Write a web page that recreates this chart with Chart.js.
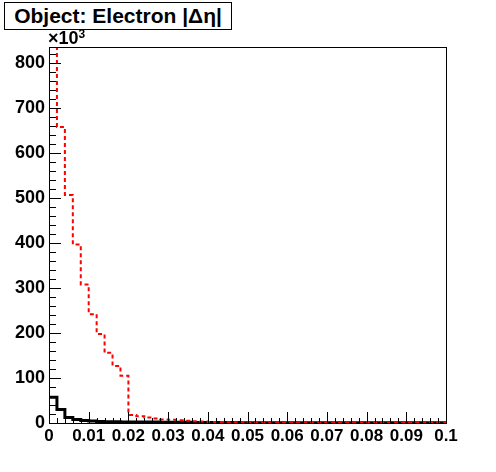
<!DOCTYPE html>
<html>
<head>
<meta charset="utf-8">
<script src="https://cdn.jsdelivr.net/npm/chart.js@4/dist/chart.umd.min.js"></script>
<style>
  html, body { margin: 0; padding: 0; background: #fff; }
  #wrap { position: relative; width: 496px; height: 472px; }
  #title {
    position: absolute; left: 4px; top: 2px; width: 226px; height: 26px;
    border: 1px solid #000; background: #fff;
    font: bold 21px "Liberation Sans", Arial, Helvetica, sans-serif;
    line-height: 26px; text-align: center; color: #000;
  }
  #mult {
    position: absolute; left: 48px; top: 29px;
    font: bold 18px "Liberation Sans", Arial, Helvetica, sans-serif; color: #000;
    line-height: 18px;
  }
  #mult sup { font-size: 12px; position: relative; top: -4px; vertical-align: top; }
</style>
</head>
<body>
<div id="wrap">
  <canvas id="c" width="496" height="472"></canvas>
  <div id="title">Object: Electron |Δη|</div>
  <div id="mult">×10<sup>3</sup></div>
</div>
<script>
// ---- data (values in units of 10^3) ----
const binEdgesStart = 0;
const binWidth = 0.002;
const redValues = [
  836, 658, 507, 397, 308, 242, 198, 156, 127, 105,
  18, 15, 12, 10, 8, 7, 6, 5, 4, 3.5,
  2.5, 2, 1.5, 1.5, 1,
  0.3, 0.3, 0.3, 0.3, 0.3, 0.3, 0.3, 0.3, 0.3, 0.3,
  0.3, 0.3, 0.3, 0.3, 0.3, 0.3, 0.3, 0.3, 0.3, 0.3,
  0.3, 0.3, 0.3, 0.3, 0.3
];
const blackValues = [
  57, 30, 12.5, 8, 5.5, 4.5, 3.5, 3, 3, 2.5,
  2.5, 2, 2, 2, 1.5, 1.5, 1.5, 1.5, 1.2, 1.2,
  1, 1, 1, 1, 0.8,
  0.5, 0.5, 0.5, 0.5, 0.5, 0.5, 0.5, 0.5, 0.5, 0.5,
  0.5, 0.5, 0.5, 0.5, 0.5, 0.5, 0.5, 0.5, 0.5, 0.5,
  0.5, 0.5, 0.5, 0.5, 0.5
];
const xTickValues = [0, 0.01, 0.02, 0.03, 0.04, 0.05, 0.06, 0.07, 0.08, 0.09, 0.1];
const xTickLabels = ["0", "0.01", "0.02", "0.03", "0.04", "0.05", "0.06", "0.07", "0.08", "0.09", "0.1"];
const yTickValues = [0, 100, 200, 300, 400, 500, 600, 700, 800];
const yTickLabels = ["0", "100", "200", "300", "400", "500", "600", "700", "800"];
const xMin = 0, xMax = 0.1, yMin = 0, yMax = 836;

function toSteps(vals) {
  const pts = vals.map((v, i) => ({ x: binEdgesStart + i * binWidth, y: v }));
  pts.push({ x: binEdgesStart + vals.length * binWidth, y: vals[vals.length - 1] });
  return pts;
}

const FONT = '"Liberation Sans", Arial, Helvetica, sans-serif';

const framePlugin = {
  id: 'rootFrame',
  afterDatasetsDraw(chart) {
    const { ctx, chartArea: a, scales } = chart;
    const xs = scales.x, ys = scales.y;
    ctx.save();
    ctx.strokeStyle = '#000';
    ctx.lineWidth = 1;
    ctx.beginPath();
    for (let k = 0; k <= 50; k++) {
      const v = k * 0.002;
      const px = Math.round(xs.getPixelForValue(v)) + 0.5;
      const len = (k % 5 === 0) ? 11 : 5;
      ctx.moveTo(px, a.bottom);
      ctx.lineTo(px, a.bottom - len);
    }
    for (let v = 0; v <= yMax; v += 20) {
      const py = Math.round(ys.getPixelForValue(v)) + 0.5;
      const len = (v % 100 === 0) ? 12 : 7;
      ctx.moveTo(a.left, py);
      ctx.lineTo(a.left + len, py);
    }
    ctx.stroke();
    ctx.strokeRect(Math.round(a.left) + 0.5, Math.round(a.top) + 0.5,
                   Math.round(a.right - a.left), Math.round(a.bottom - a.top));
    ctx.restore();
  }
};

new Chart(document.getElementById('c'), {
  type: 'line',
  data: {
    datasets: [
      {
        label: 'black',
        data: toSteps(blackValues),
        stepped: 'before',
        borderColor: '#000000',
        borderWidth: 3,
        pointRadius: 0,
        fill: false,
        order: 2
      },
      {
        label: 'red',
        data: toSteps(redValues),
        stepped: 'before',
        borderColor: '#ff0000',
        borderWidth: 2,
        borderDash: [4, 3],
        pointRadius: 0,
        fill: false,
        order: 1
      }
    ]
  },
  options: {
    responsive: false,
    animation: false,
    events: [],
    layout: { padding: { top: 47, right: 50, left: 0, bottom: 0 } },
    plugins: { legend: { display: false }, tooltip: { enabled: false }, title: { display: false } },
    scales: {
      x: {
        type: 'linear',
        min: xMin, max: xMax,
        grid: { display: false, drawTicks: false },
        border: { display: false },
        afterBuildTicks: (s) => { s.ticks = xTickValues.map(v => ({ value: v })); },
        afterFit: (s) => { s.height = 49; },
        ticks: {
          autoSkip: false,
          maxRotation: 0,
          padding: 3,
          color: '#000',
          font: { family: FONT, size: 17, weight: 'bold' },
          callback: (v, i) => xTickLabels[i]
        }
      },
      y: {
        type: 'linear',
        min: yMin, max: yMax,
        grid: { display: false, drawTicks: false },
        border: { display: false },
        afterBuildTicks: (s) => { s.ticks = yTickValues.map(v => ({ value: v })); },
        afterFit: (s) => { s.width = 49; },
        ticks: {
          autoSkip: false,
          padding: 4,
          color: '#000',
          font: { family: FONT, size: 18, weight: 'bold' },
          callback: (v, i) => yTickLabels[i]
        }
      }
    }
  },
  plugins: [framePlugin]
});
</script>
</body>
</html>
